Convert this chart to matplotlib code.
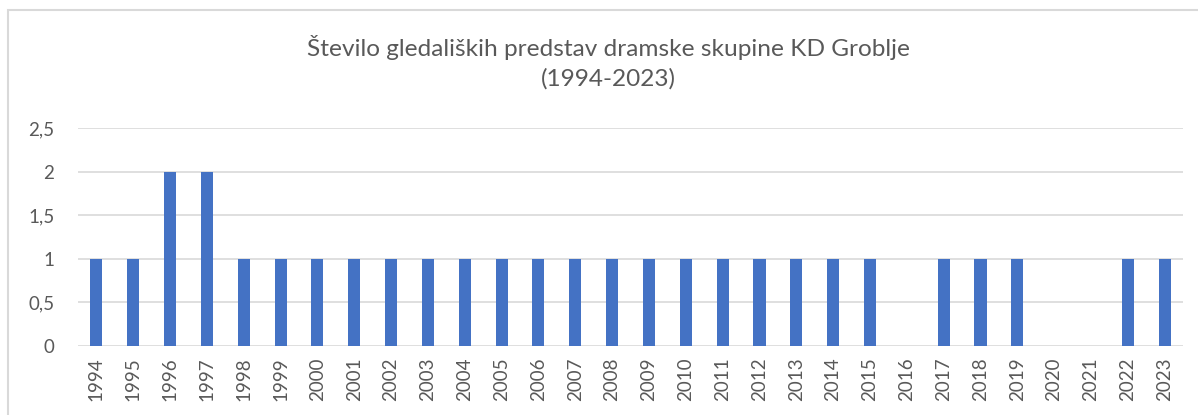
import numpy as np
import matplotlib

matplotlib.use('Agg')
import matplotlib.pyplot as plt
from matplotlib.patches import Rectangle

plt.rcParams['font.family'] = ['Lato', 'DejaVu Sans']

years = [str(y) for y in range(1994, 2024)]
shows = [1, 1, 2, 2, 1, 1, 1, 1, 1, 1, 1, 1, 1, 1, 1, 1, 1, 1, 1, 1, 1, 1,
         0, 1, 1, 1, 0, 0, 1, 1]
y_ticks = [0, 0.5, 1, 1.5, 2, 2.5]
y_labels = ['0', '0,5', '1', '1,5', '2', '2,5']

text_color = '#595959'
grid_color = '#d9d9d9'
bar_color = '#4472c4'

fig = plt.figure(figsize=(11.98, 4.15), dpi=100)
ax = fig.add_axes([0.0651, 0.1663, 0.9224, 0.5253])

x = np.arange(len(years))
ax.bar(x, shows, width=0.33, color=bar_color, zorder=3)

ax.set_xlim(-0.5, len(years) - 0.5)
ax.set_ylim(0, 2.5)
ax.set_yticks(y_ticks)
ax.set_yticklabels(y_labels)
ax.set_xticks(x)
ax.set_xticklabels(years, rotation=90)
ax.tick_params(axis='both', length=0, labelsize=13.5, colors=text_color)
ax.tick_params(axis='y', pad=17)
ax.tick_params(axis='x', pad=8)
ax.grid(axis='y', color=grid_color, linewidth=1.2, zorder=0)
for s in ax.spines.values():
    s.set_visible(False)

fig.text(0.508, 0.886, 'Število gledaliških predstav dramske skupine KD Groblje',
         ha='center', va='center', fontsize=17.6, color=text_color)
fig.text(0.508, 0.811, '(1994-2023)', ha='center', va='center',
         fontsize=17.6, color=text_color)

fig.patches.append(Rectangle((8 / 1198, -0.05), 1.05, 1 - 9.5 / 415 + 0.05,
                             transform=fig.transFigure, fill=False,
                             edgecolor=grid_color, linewidth=1.5))

fig.savefig('out.png')
